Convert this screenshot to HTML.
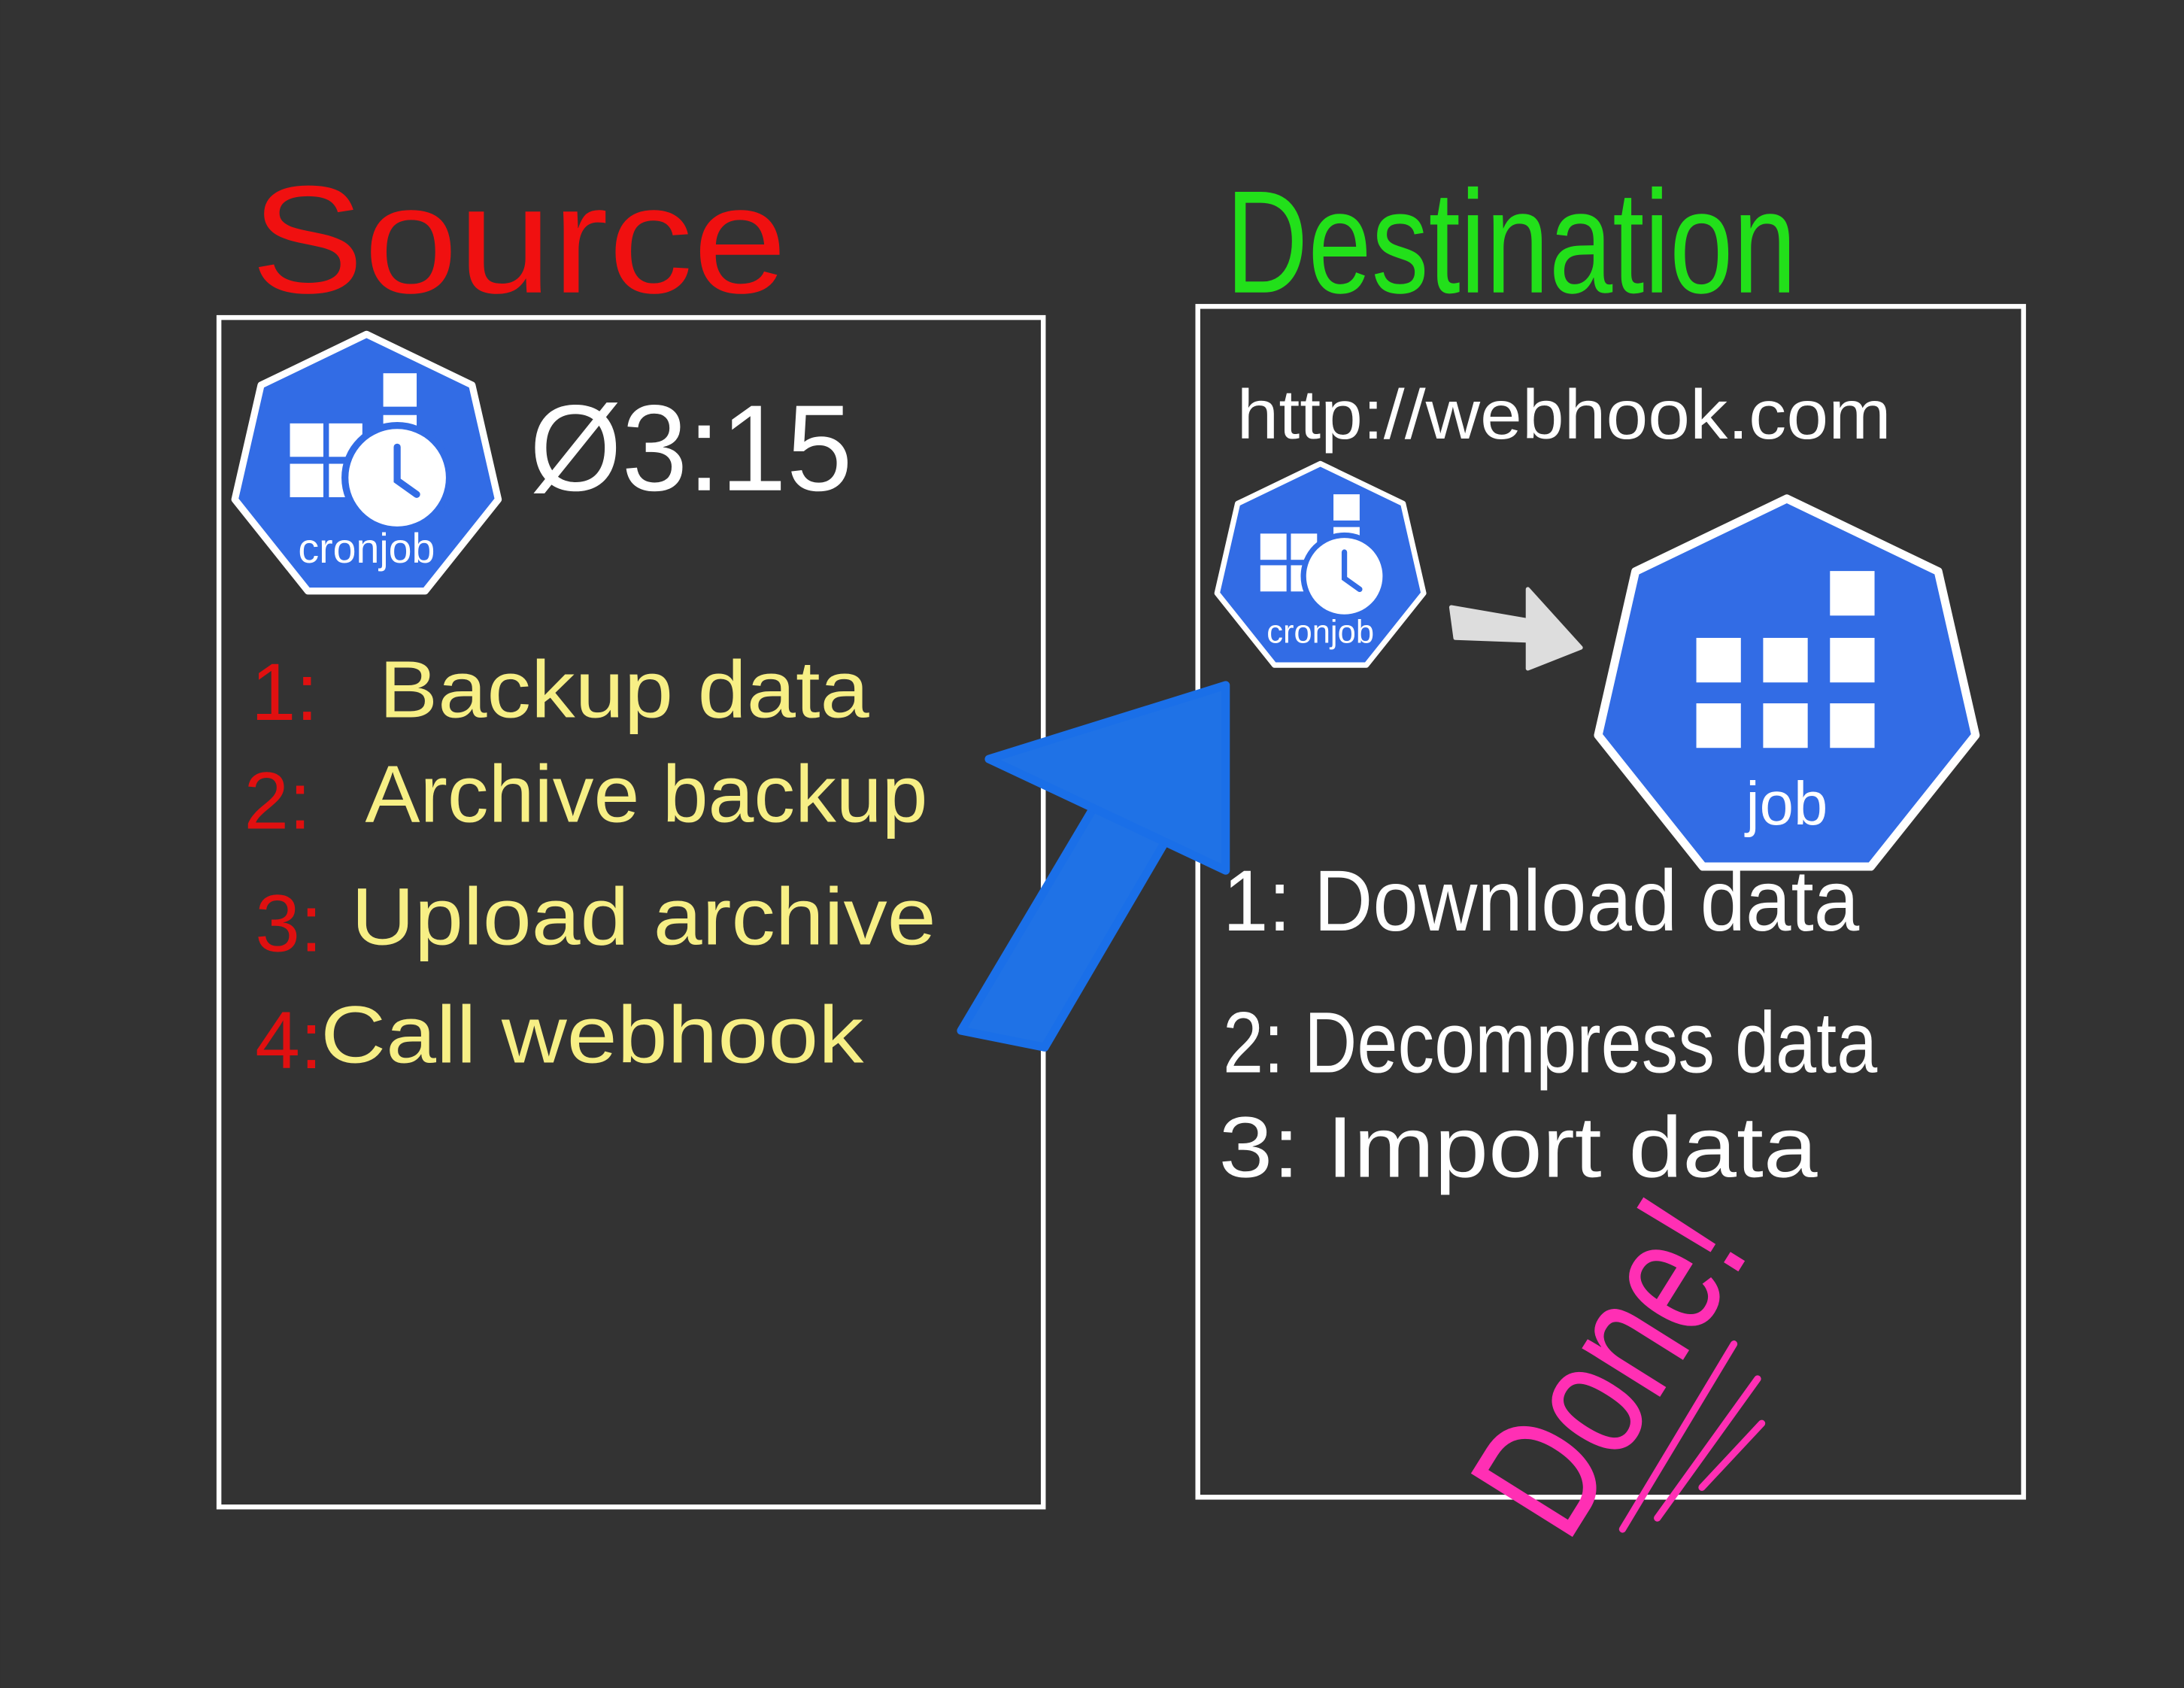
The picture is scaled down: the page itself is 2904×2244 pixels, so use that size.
<!DOCTYPE html>
<html><head><meta charset="utf-8"><style>
html,body{margin:0;padding:0;background:#333333;}
svg{display:block;}
text{font-family:"Liberation Sans",sans-serif;}
</style></head><body>
<svg width="2904" height="2244" viewBox="0 0 1568 1212" xmlns="http://www.w3.org/2000/svg">
<rect width="1568" height="1212" fill="#333333"/>
<defs>
<g id="cron">
  <polygon points="0,-97 75.8,-60.5 94.6,21.6 42.1,87.4 -42.1,87.4 -94.6,21.6 -75.8,-60.5" fill="#326ce5" stroke="#fff" stroke-width="5" stroke-linejoin="round"/>
  <rect x="-55" y="-33" width="24" height="24" fill="#fff"/>
  <rect x="-27" y="-33" width="24" height="24" fill="#fff"/>
  <rect x="-55" y="-4" width="24" height="24" fill="#fff"/>
  <rect x="-27" y="-4" width="24" height="24" fill="#fff"/>
  <rect x="12" y="-69" width="24" height="24" fill="#fff"/>
  <rect x="12" y="-39" width="24" height="14" fill="#fff"/>
  <circle cx="22" cy="6" r="40" fill="#326ce5"/>
  <circle cx="22" cy="6" r="35" fill="#fff"/>
  <path d="M22,-16 L22,8 L36,18" fill="none" stroke="#326ce5" stroke-width="5" stroke-linecap="round"/>
  <text x="0" y="67" font-size="30" fill="#fff" text-anchor="middle">cronjob</text>
</g>
</defs>

<rect x="157" y="228" width="592" height="854" fill="none" stroke="#fff" stroke-width="3.5"/>
<rect x="860" y="220" width="593" height="855" fill="none" stroke="#fff" stroke-width="3.5"/>

<text x="180" y="210" font-size="110" fill="#f01010" textLength="385" lengthAdjust="spacingAndGlyphs">Source</text>
<text x="880" y="210" font-size="105" fill="#22e01a" textLength="410" lengthAdjust="spacingAndGlyphs">Destination</text>

<use href="#cron" transform="translate(263,337)"/>
<text x="380" y="352" font-size="88" fill="#fff" textLength="232" lengthAdjust="spacingAndGlyphs">Ø3:15</text>

<g font-size="58">
<text x="180" y="517" fill="#e01010">1:</text>
<text x="272" y="515" fill="#f7ef85" textLength="352" lengthAdjust="spacingAndGlyphs">Backup data</text>
<text x="175" y="595" fill="#e01010">2:</text>
<text x="262" y="590" fill="#f7ef85" textLength="404" lengthAdjust="spacingAndGlyphs">Archive backup</text>
<text x="183" y="683" fill="#e01010">3:</text>
<text x="252" y="678" fill="#f7ef85" textLength="420" lengthAdjust="spacingAndGlyphs">Upload archive</text>
<text x="183" y="767" fill="#e01010">4:</text>
<text x="230" y="763" fill="#f7ef85" textLength="390" lengthAdjust="spacingAndGlyphs">Call webhook</text>
</g>

<g fill="#1f72e6" stroke="#1a6fe8" stroke-width="6" stroke-linejoin="round">
<polygon points="690,740 750,752 845,590 800,555"/>
<polygon points="710,545 880,492 880,625"/>
</g>

<text x="888" y="315" font-size="50" fill="#fff" textLength="470" lengthAdjust="spacingAndGlyphs">http://webhook.com</text>
<use href="#cron" transform="translate(948,409) scale(0.784)"/>
<g fill="#ddd" stroke="#ddd" stroke-width="3" stroke-linejoin="round">
<polygon points="1042,436 1100,446 1100,460 1045,458"/>
<polygon points="1097,423 1135,465 1097,480"/>
</g>
<g transform="translate(1283,497)">
  <polygon points="0,-139 108.7,-86.7 135.5,30.9 60.3,125.2 -60.3,125.2 -135.5,30.9 -108.7,-86.7" fill="#326ce5" stroke="#fff" stroke-width="6" stroke-linejoin="round"/>
  <rect x="-65" y="-39" width="32" height="32" fill="#fff"/>
  <rect x="-17" y="-39" width="32" height="32" fill="#fff"/>
  <rect x="31" y="-39" width="32" height="32" fill="#fff"/>
  <rect x="-65" y="8" width="32" height="32" fill="#fff"/>
  <rect x="-17" y="8" width="32" height="32" fill="#fff"/>
  <rect x="31" y="8" width="32" height="32" fill="#fff"/>
  <rect x="31" y="-87" width="32" height="32" fill="#fff"/>
  <text x="0" y="95" font-size="44" fill="#fff" text-anchor="middle">job</text>
</g>

<g font-size="62" fill="#fff">
<text x="878" y="668" textLength="457" lengthAdjust="spacingAndGlyphs">1: Download data</text>
<text x="878" y="770" textLength="470" lengthAdjust="spacingAndGlyphs">2: Decompress data</text>
<text x="875" y="845" textLength="430" lengthAdjust="spacingAndGlyphs">3: Import data</text>
</g>

<text transform="translate(1125,1110) rotate(-58)" font-size="125" fill="#ff2fb4" textLength="250" lengthAdjust="spacingAndGlyphs">Done!</text>
<g stroke="#ff2fb4" stroke-width="5" stroke-linecap="round">
<line x1="1165" y1="1098" x2="1245" y2="965"/>
<line x1="1190" y1="1090" x2="1262" y2="990"/>
<line x1="1222" y1="1068" x2="1265" y2="1022"/>
</g>
</svg>
</body></html>
